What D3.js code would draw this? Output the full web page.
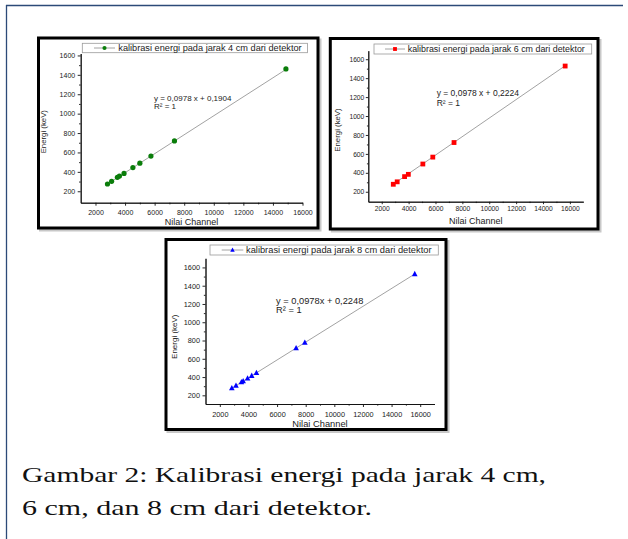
<!DOCTYPE html>
<html><head><meta charset="utf-8">
<script src="https://cdn.jsdelivr.net/npm/d3@7"></script>
<style>
html,body{margin:0;padding:0;background:#fff;}
svg text{font-family:"Liberation Sans",Arial,sans-serif;}
svg text.caption{font-family:"Liberation Serif","DejaVu Serif",serif;}
</style></head>
<body>
<svg id="c" width="628" height="539"></svg>
<script>
// ---- data ----
const xTickValues = [2000, 4000, 6000, 8000, 10000, 12000, 14000, 16000];
const yTickValues = [200, 400, 600, 800, 1000, 1200, 1400, 1600];
const xMinorValues = [3000, 5000, 7000, 9000, 11000, 13000, 15000];
const yMinorValues = [300, 500, 700, 900, 1100, 1300, 1500];

const channel4 = [2810, 3090, 3480, 3620, 3930, 4530, 5000, 5750, 7340, 14880];
const energy4  = [275, 302, 344, 356, 384, 444, 489, 563, 719, 1461];
const channel6 = [2860, 3150, 3700, 3980, 5060, 5800, 7380, 15650];
const energy6  = [279, 305, 360, 384, 493, 566, 720, 1528];
const channel8 = [2840, 3130, 3510, 3630, 3940, 4230, 4560, 7330, 7940, 15620];
const energy8  = [278, 306, 344, 355, 386, 414, 446, 717, 777, 1528];

const legendLabels = ["kalibrasi energi pada jarak 4 cm dari detektor",
                      "kalibrasi energi pada jarak 6 cm dari detektor",
                      "kalibrasi energi pada jarak 8 cm dari detektor"];
const equationLabels = ["y = 0,0978 x + 0,1904", "y = 0,0978 x + 0,2224", "y = 0,0978x + 0,2248"];
const slopes = [0.0978, 0.0978, 0.0978];
const intercepts = [0.1904, 0.2224, 0.2248];
const xDomains = [[1000, 16000], [1000, 17000], [1000, 17000]];
const yDomains = [[82, 1620], [95, 1690], [105, 1700]];
const captionLines = ["Gambar 2: Kalibrasi energi pada jarak 4 cm,", "6 cm, dan 8 cm dari detektor."];

// ---- layout ----
const svg = d3.select("#c");
// outer frame (top + left)
svg.append("line").attr("x1",6).attr("y1",5.5).attr("x2",623).attr("y2",5.5).attr("stroke","#2c4a78").attr("stroke-width",1.3);
svg.append("line").attr("x1",6.5).attr("y1",5).attr("x2",6.5).attr("y2",539).attr("stroke","#2c4a78").attr("stroke-width",1.3);

const panels = [
  {frame:[38.5,38,318,228], xr:[80.7,302.5], yr:[202.7,53.5], xpad:4, ypad:2.5, tick:3, tickFont:7,
   legend:[82.3,43.3,307.5,52.7], legFont:9.2, legText:118.3, legLine:[94,115],
   eq:[154,100.5,108.5], eqFont:8, xt:[225], yt:[43.3,131.7], titleFont:9, ytFont:7.8,
   color:"#0a7d0a", shape:"circle", xs:channel4, ys:energy4},
  {frame:[330.3,38.5,598,229], xr:[368.3,583.3], yr:[201.7,50.7], xpad:2.5, ypad:1.5, tick:2.5, tickFont:6.7,
   legend:[374,44,591.7,54], legFont:8.9, legText:407.7, legLine:[385,405],
   eq:[436.7,96.3,105.7], eqFont:8.5, xt:[224], yt:[337.7,130], titleFont:9, ytFont:7.8,
   color:"#ff0000", shape:"square", xs:channel6, ys:energy6},
  {frame:[166,239.5,446,429.5], xr:[205.5,434.5], yr:[404,258.3], xpad:4.5, ypad:2.5, tick:3, tickFont:7.3,
   legend:[210,245,438.3,255], legFont:9.3, legText:246, legLine:[221.7,243.3],
   eq:[276,304.3,313.3], eqFont:9.3, xt:[426.5], yt:[174,336.7], titleFont:9.3, ytFont:8,
   color:"#0000ff", shape:"triangle", xs:channel8, ys:energy8}
];

function marker(g, shape, color, cx, cy, s){
  if(shape==="circle") g.append("circle").attr("cx",cx).attr("cy",cy).attr("r",s*0.5).attr("fill",color);
  else if(shape==="square") g.append("rect").attr("x",cx-s/2).attr("y",cy-s/2).attr("width",s).attr("height",s).attr("fill",color);
  else {
    const h = s*0.95;
    g.append("path").attr("d",`M${cx},${cy-h*0.6}L${cx+s/2},${cy+h*0.4}L${cx-s/2},${cy+h*0.4}Z`).attr("fill",color);
  }
}

panels.forEach((p,i)=>{
  const g = svg.append("g");
  const [fx0,fy0,fx1,fy1] = p.frame;
  // shadow + frame
  g.append("rect").attr("x",fx0+2).attr("y",fy0+2).attr("width",fx1-fx0).attr("height",fy1-fy0)
    .attr("fill","none").attr("stroke","#c8c8c8").attr("stroke-width",3);
  g.append("rect").attr("x",fx0).attr("y",fy0).attr("width",fx1-fx0).attr("height",fy1-fy0)
    .attr("fill","#fff").attr("stroke","#000").attr("stroke-width",3);

  const x = d3.scaleLinear().domain(xDomains[i]).range(p.xr);
  const y = d3.scaleLinear().domain(yDomains[i]).range(p.yr);

  // axes
  const xAxis = g.append("g").attr("transform",`translate(0,${p.yr[0]})`)
    .call(d3.axisBottom(x).tickValues(xTickValues).tickSize(p.tick).tickSizeOuter(0).tickPadding(p.xpad).tickFormat(d3.format("d")));
  const xMinor = g.append("g").attr("transform",`translate(0,${p.yr[0]})`)
    .call(d3.axisBottom(x).tickValues(xMinorValues).tickSize(p.tick*0.55).tickSizeOuter(0).tickFormat(""));
  const yAxis = g.append("g").attr("transform",`translate(${p.xr[0]},0)`)
    .call(d3.axisLeft(y).tickValues(yTickValues).tickSize(p.tick).tickSizeOuter(0).tickPadding(p.ypad).tickFormat(d3.format("d")));
  const yMinor = g.append("g").attr("transform",`translate(${p.xr[0]},0)`)
    .call(d3.axisLeft(y).tickValues(yMinorValues).tickSize(p.tick*0.55).tickSizeOuter(0).tickFormat(""));
  [xAxis,xMinor,yAxis,yMinor].forEach(a=>{
    a.selectAll("path").attr("stroke","#111").attr("stroke-width",0.9);
    a.selectAll("line").attr("stroke","#111").attr("stroke-width",0.9);
    a.selectAll("text").attr("font-size",p.tickFont).attr("fill","#222");
  });

  // axis titles
  g.append("text").attr("x",(p.xr[0]+p.xr[1])/2).attr("y",p.xt[0]).attr("text-anchor","middle")
    .attr("font-size",p.titleFont).attr("fill","#222").text("Nilai Channel");
  g.append("text").attr("transform",`translate(${p.yt[0]},${p.yt[1]}) rotate(-90)`).attr("text-anchor","middle")
    .attr("dy","0.35em").attr("font-size",p.ytFont).attr("fill","#222").text("Energi (keV)");

  // fit line
  const xs = p.xs, ys = p.ys;
  const x0 = d3.min(xs), x1 = d3.max(xs);
  g.append("line").attr("x1",x(x0)).attr("y1",y(slopes[i]*x0+intercepts[i]))
    .attr("x2",x(x1)).attr("y2",y(slopes[i]*x1+intercepts[i]))
    .attr("stroke","#8a8a8a").attr("stroke-width",0.8);

  // points
  const size = p.shape==="circle"?5.2:(p.shape==="square"?4.8:5.6);
  xs.forEach((v,k)=>marker(g,p.shape,p.color,x(v),y(ys[k]),size));

  // equation
  g.append("text").attr("x",p.eq[0]).attr("y",p.eq[1]).attr("font-size",p.eqFont).attr("fill","#222").text(equationLabels[i]);
  g.append("text").attr("x",p.eq[0]).attr("y",p.eq[2]).attr("font-size",p.eqFont).attr("fill","#222").text("R² = 1");

  // legend
  const [lx0,ly0,lx1,ly1] = p.legend;
  g.append("rect").attr("x",lx0).attr("y",ly0).attr("width",lx1-lx0).attr("height",ly1-ly0)
    .attr("fill","#fff").attr("stroke","#9a9a9a").attr("stroke-width",0.8);
  const lcy = (ly0+ly1)/2;
  g.append("line").attr("x1",p.legLine[0]).attr("x2",p.legLine[1]).attr("y1",lcy).attr("y2",lcy)
    .attr("stroke","#8a8a8a").attr("stroke-width",0.8);
  marker(g,p.shape,p.color,(p.legLine[0]+p.legLine[1])/2,lcy,size*0.8);
  g.append("text").attr("x",p.legText).attr("y",lcy).attr("dy","0.35em").attr("font-size",p.legFont)
    .attr("fill","#222").text(legendLabels[i]);
});

// caption
const capWidths = [524, 350];
const capBase = [482, 515];
captionLines.forEach((t,k)=>{
  svg.append("text").attr("class","caption").attr("x",22).attr("y",capBase[k])
    .attr("font-size",22).attr("fill","#111").attr("textLength",capWidths[k]).attr("lengthAdjust","spacingAndGlyphs").text(t);
});
</script>
</body></html>
